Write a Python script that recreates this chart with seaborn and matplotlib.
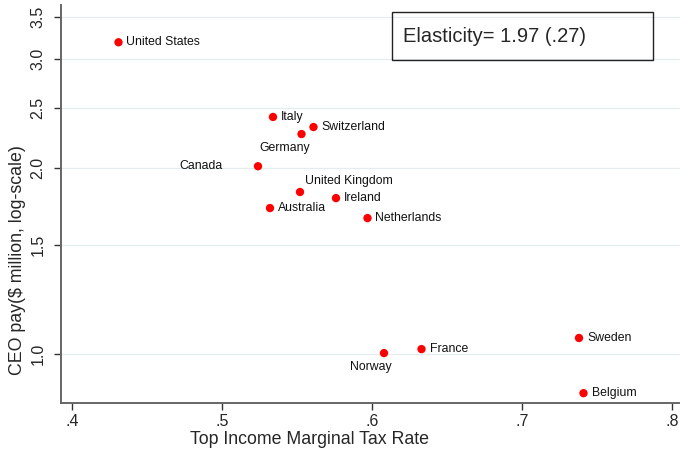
import matplotlib
matplotlib.use("Agg")
import matplotlib.pyplot as plt
from matplotlib.ticker import FixedLocator, FixedFormatter, NullLocator
import pandas as pd
import seaborn as sns

# Values
countries = ["United States", "Italy", "Switzerland", "Germany", "Canada",
             "United Kingdom", "Australia", "Ireland", "Netherlands",
             "Norway", "France", "Sweden", "Belgium"]
tax_rate = [0.431, 0.534, 0.561, 0.553, 0.524, 0.552, 0.532, 0.576, 0.597,
            0.608, 0.633, 0.738, 0.741]
ceo_pay = [3.19, 2.415, 2.326, 2.266, 2.01, 1.826, 1.72, 1.785, 1.657,
           1.002, 1.017, 1.06, 0.863]

y_ticks = [1.0, 1.5, 2.0, 2.5, 3.0, 3.5]
x_ticks = [0.4, 0.5, 0.6, 0.7, 0.8]
x_tick_labels = [".4", ".5", ".6", ".7", ".8"]

df = pd.DataFrame({"country": countries, "tax": tax_rate, "pay": ceo_pay})

sns.set_style("white")
plt.rcParams["font.family"] = ["Liberation Sans", "DejaVu Sans"]

fig = plt.figure(figsize=(6.8, 4.53), dpi=100)
ax = fig.add_axes([61 / 680, 1 - 403 / 453, 619 / 680, 398 / 453])

ax.set_yscale("log")
for t in y_ticks:
    ax.axhline(t, color="#e4ecef", lw=0.9, zorder=0)

sns.scatterplot(data=df, x="tax", y="pay", ax=ax, color="#ff0000",
                s=36, edgecolor="none", zorder=3, legend=False)

# label placement: (dx px, dy px, ha)
placement = {"Germany": (-17, -14, "center"),
             "Canada": (-35, 0, "right"),
             "United Kingdom": (5, 11, "left"),
             "Norway": (-13, -14, "center")}
for c, xv, yv in zip(countries, tax_rate, ceo_pay):
    dx, dy, ha = placement.get(c, (8, 0, "left"))
    ax.annotate(c, (xv, yv), xytext=(dx * 0.72, dy * 0.72),
                textcoords="offset points", ha=ha, va="center",
                fontsize=8.8, color="#111111")

ax.set_xlim(0.39267, 0.80533)
ax.set_ylim(0.832, 3.665)
ax.yaxis.set_major_locator(FixedLocator(y_ticks))
ax.yaxis.set_major_formatter(FixedFormatter([f"{t:.1f}" for t in y_ticks]))
ax.yaxis.set_minor_locator(NullLocator())
ax.set_xticks(x_ticks)
ax.set_xticklabels(x_tick_labels)

ax.tick_params(axis="both", which="major", direction="out", length=5,
               width=1, color="#333333", labelsize=11.5,
               left=True, bottom=True)
ax.tick_params(axis="x", pad=3)
ax.tick_params(axis="y", pad=6)
for lbl in ax.get_yticklabels():
    lbl.set_rotation(90)
    lbl.set_va("center")

for side in ["top", "right"]:
    ax.spines[side].set_visible(False)
for side in ["left", "bottom"]:
    ax.spines[side].set_color("#666666")
    ax.spines[side].set_linewidth(1.4)

ax.set_xlabel("Top Income Marginal Tax Rate", fontsize=12.8)
ax.set_ylabel("CEO pay($ million, log-scale)", fontsize=12.8)
ax.xaxis.set_label_coords((310 - 61) / 619, -(431 - 403) / 398)
ax.yaxis.set_label_coords(-(61 - 26) / 619, (403 - 260) / 398)

ax.text((403 - 61) / 619, (403 - 37) / 398, "Elasticity= 1.97 (.27)",
        transform=ax.transAxes, fontsize=14.5, va="center", ha="left")
box = plt.Rectangle(((392 - 61) / 619, (403 - 60) / 398), 261 / 619, 48 / 398,
                    transform=ax.transAxes, fill=False, edgecolor="#222222",
                    lw=1.0, clip_on=False)
ax.add_patch(box)

fig.savefig("out.png", dpi=100)
